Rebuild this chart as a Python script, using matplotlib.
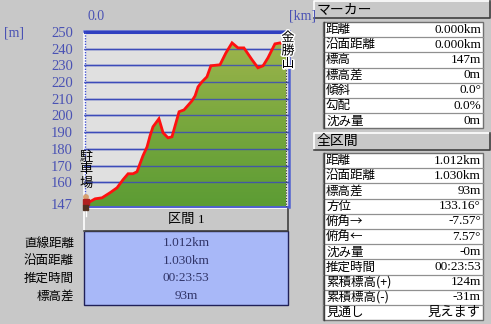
import numpy as np
import matplotlib
matplotlib.use("Agg")
import matplotlib.pyplot as plt
from matplotlib.patches import Rectangle, Circle, Polygon
from matplotlib.colors import LinearSegmentedColormap
import matplotlib.patheffects as pe

# ---------------- data ----------------
dist_km = [0.000, 0.046, 0.081, 0.121, 0.157, 0.187, 0.213, 0.238, 0.258, 0.288,
           0.309, 0.324, 0.339, 0.369, 0.390, 0.415, 0.435, 0.471, 0.496, 0.536,
           0.552, 0.567, 0.587, 0.612, 0.632, 0.678, 0.708, 0.739, 0.769, 0.799,
           0.840, 0.870, 0.896, 0.921, 0.956, 0.982, 1.012]
elev_m = [147.0, 150.1, 150.7, 153.7, 156.7, 161.5, 165.1, 165.1, 166.3, 175.8,
          181.2, 187.8, 193.2, 198.0, 189.6, 186.6, 187.2, 202.2, 203.3, 208.7,
          211.7, 217.1, 220.1, 223.1, 229.7, 230.3, 237.4, 243.4, 240.4, 240.4,
          233.3, 228.5, 229.7, 234.5, 242.8, 243.4, 241.6]
y_ticks = [250, 240, 230, 220, 210, 200, 190, 180, 170, 160, 147]
grid_levels = [240, 230, 220, 210, 200, 190, 180, 170, 160]
start_name = "駐車場"
end_name = "金勝山"
section_title = "区間 1"
section_labels = ["直線距離", "沿面距離", "推定時間", "標高差"]
section_values = ["1.012km", "1.030km", "00:23:53", "93m"]
marker_title = "マーカー"
marker_labels = ["距離", "沿面距離", "標高", "標高差", "傾斜", "勾配", "沈み量"]
marker_values = ["0.000km", "0.000km", "147m", "0m", "0.0°", "0.0%", "0m"]
total_title = "全区間"
total_labels = ["距離", "沿面距離", "標高差", "方位", "俯角→", "俯角←", "沈み量",
                "推定時間", "累積標高(+)", "累積標高(-)", "見通し"]
total_values = ["1.012km", "1.030km", "93m", "133.16°", "-7.57°", "7.57°", "-0m",
                "00:23:53", "124m", "-31m", "見えます"]

# ---------------- style ----------------
W, H = 491, 324
BG = "#c8c8c8"
PLOT_BG = "#e0e0e0"
BLUE = "#4048c0"
TICK_BLUE = "#4a52b4"
JP = ["Noto Sans CJK JP", "DejaVu Sans"]
NUM = ["Liberation Serif", "Noto Sans CJK JP", "DejaVu Sans"]

fig = plt.figure(figsize=(W / 100, H / 100), dpi=100)
fig.patch.set_facecolor(BG)

def overlay(z):
    a = fig.add_axes([0, 0, 1, 1])
    a.set_xlim(0, W)
    a.set_ylim(H, 0)
    a.axis("off")
    a.patch.set_alpha(0)
    a.set_zorder(z)
    return a

bg = overlay(0)
fg = overlay(3)

# ---------------- profile axes ----------------
L, T, R, B = 84, 31, 289, 207
ax = fig.add_axes([L / W, 1 - B / H, (R - L) / W, (B - T) / H])
ax.set_zorder(1)
ax.set_facecolor(PLOT_BG)
kpp = 1.012 / 200.0
ax.set_xlim(-2 * kpp, 1.012 + 3 * kpp)
ax.set_ylim(145.2, 250.5)

for g in grid_levels:
    ax.axhline(g, color=BLUE, lw=1.0, zorder=1)

poly = ax.fill_between(dist_km, elev_m, 140, color="none", lw=0, zorder=2)
cmap = LinearSegmentedColormap.from_list("g", ["#5c9c34", "#7aa83e", "#a2b64e"])
grad = np.linspace(0, 1, 256).reshape(-1, 1)
im = ax.imshow(grad, extent=[-0.02, 1.04, 145.2, 250.5], origin="lower",
               aspect="auto", cmap=cmap, zorder=2)
im.set_clip_path(poly.get_paths()[0], transform=ax.transData)

# gridlines visible on top of fill (they appear through it)
for g in grid_levels:
    ax.axhline(g, color="#3c4cb8", lw=1.0, alpha=0.85, zorder=3)
ax.axhline(250, color="#3040c0", lw=2.2, zorder=3)

ax.plot(dist_km, elev_m, color="#ff1010", lw=2.0, zorder=5,
        solid_joinstyle="miter")

# end marker dotted line
ax.axvline(1.012, color="#333333", lw=0.8, ls=(0, (1, 1.5)), zorder=4)
ax.axvline(0.0, color="#ffffff", lw=0.9, zorder=4, ymin=0, ymax=0.02)

ax.set_yticks(y_ticks)
ax.set_yticklabels([str(v) for v in y_ticks], color=TICK_BLUE,
                   fontsize=10.5, family=NUM)
ax.tick_params(axis="y", length=0, pad=8)
ax.set_xticks([])
for s in ["left", "right", "top"]:
    ax.spines[s].set_color("#5060d0")
    ax.spines[s].set_linewidth(1.8)
ax.spines["bottom"].set_color("#5060d0")
ax.spines["bottom"].set_linewidth(1.4)
ax.spines["left"].set_color("#ffffff")

# left ruler dots
fg.plot([85.5, 85.5], [32, 205], color="#4050d0", lw=1.0, ls=(0, (1, 1)))

# axis unit labels
fg.text(4, 33, "[m]", color=TICK_BLUE, fontsize=10, family=NUM, va="center", ha="left")
fg.text(88, 16, "0.0", color=TICK_BLUE, fontsize=10, family=NUM, va="center", ha="left")
fg.text(289, 16, "[km]", color=TICK_BLUE, fontsize=10, family=NUM, va="center", ha="left")

# place names as vertical text
for i, ch in enumerate(start_name):
    fg.text(86, 157 + i * 13, ch, fontsize=9.5, family=JP, ha="center",
            va="center", color="black")
for i, ch in enumerate(end_name):
    fg.text(288, 38 + i * 13, ch, fontsize=9.5, family=JP, ha="center",
            va="center", color="black",
            path_effects=[pe.withStroke(linewidth=2, foreground="white")])

# hiker icon
fg.add_patch(Circle((86, 197), 2.2, color="#d8a070", zorder=6))
fg.add_patch(Rectangle((83, 199), 6, 6, color="#b02020", zorder=6))
fg.add_patch(Rectangle((83.5, 205), 2, 5, color="#503020", zorder=6))
fg.add_patch(Rectangle((86.5, 205), 2, 5, color="#503020", zorder=6))
fg.plot([86, 86], [210, 216], color="white", lw=1, zorder=5)

# ---------------- section box ----------------
def bevel(a, x0, y0, x1, y1, fill=BG):
    a.add_patch(Rectangle((x0, y0), x1 - x0, y1 - y0, facecolor=fill,
                          edgecolor="none"))
    a.plot([x0, x0, x1], [y1, y0, y0], color="white", lw=1.2)
    a.plot([x0, x1, x1], [y1, y1, y0], color="#404040", lw=1.2)

bevel(bg, 84.5, 207.5, 288.5, 231)
bg.text(186, 219.5, section_title, fontsize=9.5, family=NUM, ha="center",
        va="center", color="black")
bg.add_patch(Rectangle((84.5, 231), 204, 74, facecolor="#a8b8f8",
                       edgecolor="#202058", lw=1.0))
for i, (lab, val) in enumerate(zip(section_labels, section_values)):
    y = 243 + i * 17.7
    bg.text(186, y, val, fontsize=9.5, family=NUM, ha="center", va="center",
            color="#303468")
    bg.text(74, y, lab, fontsize=9, family=JP, ha="right", va="center",
            color="black")

# ---------------- right panel tables ----------------
def table(a, title, ty0, ty1, labels, values, tab_top, row_h):
    bevel(a, 314.5, ty0, 490.5, ty1)
    a.text(317, (ty0 + ty1) / 2, title, fontsize=10, family=JP, ha="left",
           va="center", color="black")
    n = len(labels)
    tab_bot = tab_top + n * row_h
    a.add_patch(Rectangle((323, tab_top), 160.5, tab_bot - tab_top,
                          facecolor="white", edgecolor="#707070", lw=1.0))
    for i in range(1, n):
        yy = tab_top + i * row_h
        a.plot([323, 483.5], [yy, yy], color="#909090", lw=0.9)
    a.plot([324, 324], [tab_top, tab_bot], color="#404040", lw=1.0)
    for i, (lab, val) in enumerate(zip(labels, values)):
        yc = tab_top + (i + 0.5) * row_h
        a.text(326, yc, lab, fontsize=9, family=JP, ha="left", va="center",
               color="black")
        a.text(481, yc, val, fontsize=9.5, family=NUM, ha="right",
               va="center", color="black")

table(bg, marker_title, 0.5, 18, marker_labels, marker_values, 22, 15.2)
table(bg, total_title, 132.5, 149.5, total_labels, total_values, 153, 15.2)

fig.savefig("out.png", dpi=100, facecolor=BG)
